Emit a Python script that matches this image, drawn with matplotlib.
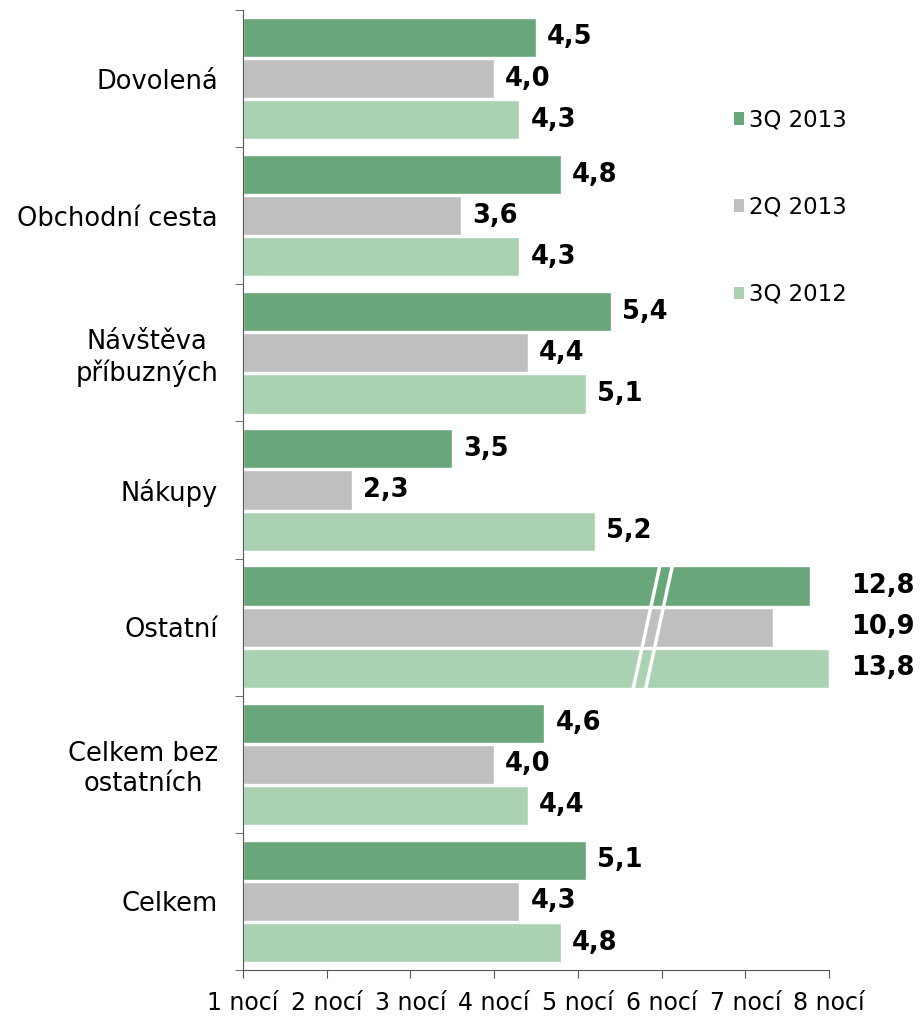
import matplotlib.pyplot as plt
import numpy as np

categories = ['Dovolená', 'Obchodní cesta', 'Návštěva\npříbuzných', 'Nákupy',
              'Ostatní', 'Celkem bez\nostatních', 'Celkem']
series_names = ['3Q 2013', '2Q 2013', '3Q 2012']
q3_2013 = [4.5, 4.8, 5.4, 3.5, 12.8, 4.6, 5.1]
q2_2013 = [4.0, 3.6, 4.4, 2.3, 10.9, 4.0, 4.3]
q3_2012 = [4.3, 4.3, 5.1, 5.2, 13.8, 4.4, 4.8]
# 'Ostatní' is drawn on a broken axis: shown lengths of its bars
ostatni_shown = [7.77, 7.33, 8.0]
xticks = [1, 2, 3, 4, 5, 6, 7, 8]
xticklabels = ['%d nocí' % t for t in xticks]

colors = ['#69a679', '#bfbfbf', '#aad2b2']
broken_idx = 4
base = 1

fig = plt.figure(figsize=(9.22, 10.16), dpi=100)
ax = fig.add_axes([243 / 922, 46 / 1016, 586 / 922, 960 / 1016])

y = np.arange(len(categories))
offsets = [-0.3, 0.0, 0.3]
for k, vals in enumerate([q3_2013, q2_2013, q3_2012]):
    shown = list(vals)
    shown[broken_idx] = ostatni_shown[k]
    lengths = [v - base for v in shown]
    ax.barh(y + offsets[k], lengths, left=base, height=0.285, color=colors[k],
            edgecolor='white', linewidth=1.0, label=series_names[k], zorder=2)
    for i, v in enumerate(vals):
        txt = ('%.1f' % v).replace('.', ',')
        if i == broken_idx:
            ax.text(8.27, y[i] + offsets[k], txt, ha='left', va='center',
                    fontsize=18.5, fontweight='bold', clip_on=False)
        else:
            ax.annotate(txt, (shown[i], y[i] + offsets[k]), xytext=(8, 0),
                        textcoords='offset points', ha='left', va='center',
                        fontsize=18.5, fontweight='bold')

# break marks on the 'Ostatní' bars
yb0 = broken_idx - 0.45
yb1 = broken_idx + 0.45
for dx in [0.0, 0.15]:
    ax.plot([5.98 + dx, 5.66 + dx], [yb0, yb1], color='white', lw=2.5,
            solid_capstyle='butt', zorder=3)

ax.set_xlim(1, 8)
ax.set_ylim(len(categories) - 0.5, -0.5)
ax.set_xticks(xticks)
ax.set_xticklabels(xticklabels, fontsize=17)
ax.tick_params(axis='x', length=6, color='#555555', pad=9)

ax.set_yticks(y)
ax.set_yticklabels(categories, fontsize=18.5, multialignment='center')
ax.set_yticks(np.arange(len(categories) + 1) - 0.5, minor=True)
ax.tick_params(axis='y', which='major', length=0, pad=18)
ax.tick_params(axis='y', which='minor', length=6, color='#555555')

for s in ['top', 'right']:
    ax.spines[s].set_visible(False)
for s in ['left', 'bottom']:
    ax.spines[s].set_color('#555555')

leg = fig.legend(loc='upper left', bbox_to_anchor=(713 / 922, 1 - 88 / 1016),
                 frameon=False, fontsize=16.5, handlelength=0.45, handleheight=0.45,
                 handletextpad=0.2, labelspacing=2.8)
for h in leg.legend_handles:
    h.set_edgecolor('none')

fig.savefig('out.png', dpi=100)
